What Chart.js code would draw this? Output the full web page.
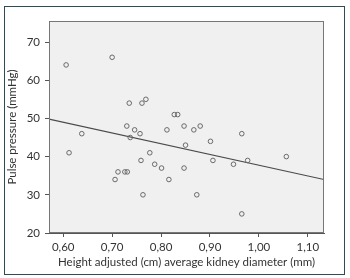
<!DOCTYPE html>
<html>
<head>
<meta charset="utf-8">
<script src="https://cdn.jsdelivr.net/npm/chart.js@4.4.1/dist/chart.umd.min.js"></script>
<style>
  html, body { margin: 0; padding: 0; background: #ffffff; }
  #wrap { width: 350px; height: 278px; position: relative; }
</style>
</head>
<body>
<div id="wrap"><canvas id="chart"></canvas></div>
<script>
// scatter: kidney diameter vs pulse pressure
const kidneyDiam = [0.606, 0.700, 0.735, 0.730, 0.746, 0.638, 0.737, 0.761, 0.769, 0.827,
                    0.834, 0.847, 0.880, 0.867, 0.812, 0.757, 0.901, 0.850, 0.777, 0.759,
                    0.906, 0.787, 0.801, 0.847, 0.816, 0.763, 0.873, 0.612, 0.712, 0.726,
                    0.731, 0.706, 0.965, 1.056, 0.948, 0.977, 0.965];
const pulsePressure = [64, 66, 54, 48, 47, 46, 45, 54, 55, 51,
                       51, 48, 48, 47, 47, 46, 44, 43, 41, 39,
                       39, 38, 37, 37, 34, 30, 30, 41, 36, 36,
                       36, 34, 46, 40, 38, 39, 25];

// fit line end points
const fitX = [0.571, 1.133];
const fitY = [49.8, 34.0];

const xTicks = [0.60, 0.70, 0.80, 0.90, 1.00, 1.10];
const yTicks = [20, 30, 40, 50, 60, 70];

const FONT = 'Lato';

// background + frame
const framePlugin = {
    id: 'frame',
    beforeDraw(chart) {
        const ctx = chart.ctx;
        const a = chart.chartArea;
        ctx.save();
        ctx.fillStyle = '#ffffff';
        ctx.fillRect(0, 0, chart.width, chart.height);
        ctx.strokeStyle = '#2e4b58';
        ctx.lineWidth = 1;
        ctx.strokeRect(4.5, 6.5, 340, 268);
        ctx.fillStyle = '#f0f0f0';
        ctx.fillRect(a.left, a.top, a.right - a.left, a.bottom - a.top);
        ctx.restore();
    },
    afterDatasetsDraw(chart) {
        const ctx = chart.ctx;
        const a = chart.chartArea;
        ctx.save();
        ctx.strokeStyle = '#777777';
        ctx.lineWidth = 1;
        ctx.strokeRect(a.left + 0.5, a.top + 0.5, a.right - a.left - 1, a.bottom - a.top - 1);
        ctx.restore();
    }
};

const points = kidneyDiam.map((x, i) => ({ x: x, y: pulsePressure[i] }));
const fitLine = fitX.map((x, i) => ({ x: x, y: fitY[i] }));

new Chart(document.getElementById('chart'), {
    type: 'scatter',
    data: {
        datasets: [
            {
                data: points,
                pointStyle: 'circle',
                pointRadius: 2.3,
                pointBorderWidth: 1,
                pointBorderColor: '#6a6a6a',
                pointBackgroundColor: 'rgba(0,0,0,0)',
                showLine: false
            },
            {
                data: fitLine,
                showLine: true,
                borderColor: '#4a4a4a',
                borderWidth: 1.2,
                pointRadius: 0,
                fill: false
            }
        ]
    },
    options: {
        responsive: true,
        maintainAspectRatio: false,
        animation: false,
        layout: { padding: { left: 0, right: 26, top: 21, bottom: 8 } },
        plugins: {
            legend: { display: false },
            tooltip: { enabled: false }
        },
        scales: {
            x: {
                type: 'linear',
                min: fitX[0],
                max: fitX[1],
                afterBuildTicks: s => { s.ticks = xTicks.map(v => ({ value: v })); },
                afterFit: s => { s.height = 37; },
                grid: { drawOnChartArea: false, drawTicks: true, tickLength: 4, color: '#555555' },
                border: { display: true, color: '#555555' },
                ticks: {
                    color: '#333333',
                    padding: 3,
                    maxRotation: 0,
                    font: { family: FONT, size: 11.5 },
                    callback: v => v.toFixed(2).replace('.', ',')
                },
                title: {
                    display: true,
                    text: 'Height adjusted (cm) average kidney diameter (mm)',
                    color: '#333333',
                    padding: { top: 0, bottom: 1 },
                    font: { family: FONT, size: 11.5 }
                }
            },
            y: {
                type: 'linear',
                min: 20,
                max: 75.5,
                afterBuildTicks: s => { s.ticks = yTicks.map(v => ({ value: v })); },
                afterFit: s => { s.width = 49; },
                grid: { drawOnChartArea: false, drawTicks: true, tickLength: 4, color: '#555555' },
                border: { display: true, color: '#555555' },
                ticks: {
                    color: '#333333',
                    padding: 5,
                    font: { family: FONT, size: 11.5 }
                },
                title: {
                    display: true,
                    text: 'Pulse pressure (mmHg)',
                    color: '#333333',
                    padding: { top: 5, bottom: 0 },
                    font: { family: FONT, size: 11.5 }
                }
            }
        }
    },
    plugins: [framePlugin]
});
</script>
</body>
</html>
